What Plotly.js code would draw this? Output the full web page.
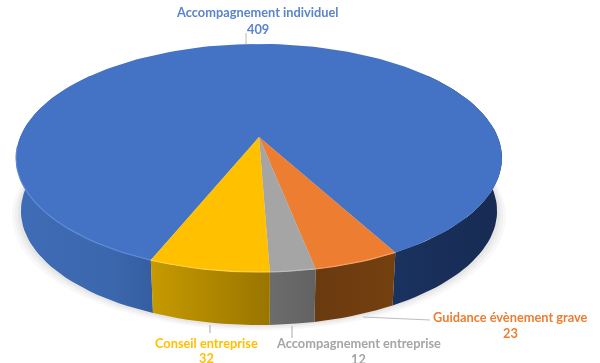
<!DOCTYPE html>
<html><head><meta charset="utf-8">
<script src="https://cdn.plot.ly/plotly-3.0.1.min.js"></script>
<style>html,body{margin:0;padding:0;background:#fff;overflow:hidden}#c{width:600px;height:363px;filter:blur(0.45px)}</style>
</head><body><div id="c"></div>
<script>
// Data, clockwise from the first slice
const categories = ["Accompagnement individuel","Guidance évènement grave","Accompagnement entreprise","Conseil entreprise"];
const values = [409,23,12,32];
const topColors = ["#4472c4","#ed7d31","#a5a5a5","#ffc000"];
const rimColors = ["#5f8ad6","#f4a067","#bdbdbd","#ffd24d"];
const labelColors = ["#5a84cc","#ed7d31","#a5a5a5","#ffc000"];
const sideScales = [
 null,
 [[0,"#6a3a10"],[1,"#74400f"]],
 [[0,"#6c6c6c"],[1,"#626262"]],
 [[0,"#c69a00"],[1,"#997500"]]
];
const blueLeftScale = [[0,"#3f6cb6"],[0.7,"#3b67ae"],[1,"#355ea0"]];
const blueRightScale = [[0,"#1a3260"],[1,"#172b52"]];

// Disc geometry (page pixels, with perspective)
const cx=259, cy=137, R=238.8, B=110.2, k=0.184, depth=53, shrink=0.98;
const frontOffset = 28.6; // angle from the front to the edge where the first slice ends
const sideLimit = 128;    // side walls run to behind the disc silhouette

function topPt(deg){const t=deg*Math.PI/180,u=Math.sin(t),v=Math.cos(t),d=1-k*v;
  return [cx+R*u/d, cy+B*v/d];}
function botPt(deg){const p=topPt(deg);return [cx+(p[0]-cx)*shrink, p[1]+depth];}
function arc(f,a,b){const n=Math.max(2,Math.ceil(Math.abs(b-a)/2)),o=[];
  for(let i=0;i<=n;i++)o.push(f(a+(b-a)*i/n));return o;}

const total=values.reduce((s,v)=>s+v,0);
// each slice runs clockwise on screen, so the angle decreases
const slices=[];let st=frontOffset+values[0]/total*360;
values.forEach(v=>{const sw=v/total*360;slices.push([st,st-sw]);st-=sw;});
const leftEdge = slices[0][0]-360; // same edge as Conseil's end, seen from the front

const traces=[];
function poly(pts,opt){traces.push(Object.assign({type:"scatter",mode:"lines",x:pts.map(p=>p[0]),y:pts.map(p=>p[1]),
  line:{width:0},hoverinfo:"skip",showlegend:false},opt));}

// soft shadow under the disc
[[9,0.05],[6,0.06],[3,0.08]].forEach(([g,o])=>{
  const pts=arc(d=>{const p=botPt(d);return [cx+(p[0]-cx)*(1+g/240),p[1]+g*0.6];},0,360);
  poly(pts,{fill:"toself",fillcolor:`rgba(120,120,120,${o})`});
});

function side(a,b,scale){
  const t=arc(topPt,a,b), bt=arc(botPt,b,a);
  poly(t.concat(bt,[t[0]]),{fill:"toself",fillgradient:{type:"horizontal",colorscale:scale}});
}
side(frontOffset,sideLimit,blueRightScale);
side(-sideLimit,leftEdge,blueLeftScale);
slices.forEach((s,i)=>{ if(i>0) side(s[0],s[1],sideScales[i]); });

// top face wedges
slices.forEach((s,i)=>{
  const pts=[[cx,cy]].concat(arc(topPt,s[0],s[1]),[[cx,cy]]);
  poly(pts,{fill:"toself",fillcolor:topColors[i]});
});
// bright bevel along the front rim
poly(arc(topPt,-85,leftEdge),{line:{width:1.2,color:rimColors[0]}});
slices.forEach((s,i)=>{ if(i>0) poly(arc(topPt,s[0],s[1]),{line:{width:1.2,color:rimColors[i]}}); });

// leader lines
const leaders=[[[246,33],[246,44]],[[363,317],[430,320]],[[292,326],[292,338]],[[210,325],[210,333]]];
const leaderColors=["#c9b59a","#bdbdbd","#a8a8a8","#a8a8a8"];
leaders.forEach((l,i)=>poly(l,{line:{width:1,color:leaderColors[i]}}));

const font=c=>({family:"Lato, Carlito, sans-serif",size:12.8,color:c});
const labelPos=[[257.5,12,29],[510,317,333],[358,343,359],[206,343,358]];
const ann=[];
categories.forEach((c,i)=>{
  ann.push({text:"<b>"+c+"</b>",x:labelPos[i][0],y:labelPos[i][1],font:font(labelColors[i])});
  ann.push({text:"<b>"+values[i]+"</b>",x:labelPos[i][0],y:labelPos[i][2],font:font(labelColors[i])});
});
ann.forEach(a=>{a.xref="x";a.yref="y";a.showarrow=false;a.xanchor="center";a.yanchor="middle";});

Plotly.newPlot("c",traces,{
  width:600,height:363,margin:{l:0,r:0,t:0,b:0},paper_bgcolor:"#fff",plot_bgcolor:"#fff",showlegend:false,
  xaxis:{range:[0,600],visible:false,fixedrange:true},
  yaxis:{range:[363,0],visible:false,fixedrange:true},
  annotations:ann
},{displayModeBar:false,staticPlot:true});
</script></body></html>
